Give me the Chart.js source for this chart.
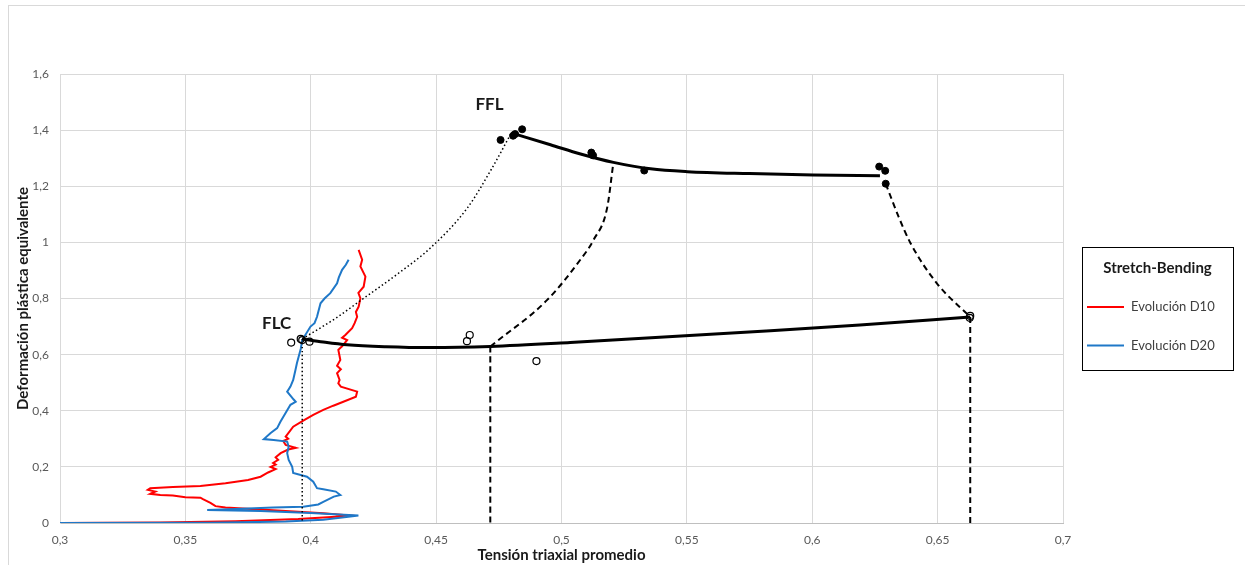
<!DOCTYPE html>
<html>
<head>
<meta charset="utf-8">
<title>Stretch-Bending</title>
<script src="https://cdn.jsdelivr.net/npm/chart.js@4/dist/chart.umd.min.js"></script>
<style>
html, body { margin: 0; padding: 0; background: #fff; overflow: hidden; }
#wrap { position: relative; width: 1245px; height: 565px; }
#frame { position: absolute; left: 8px; top: 5px; width: 1300px; height: 700px; border: 1px solid #d9d9d9; }
#graphCanvas { position: absolute; left: 0; top: 0; }
</style>
</head>
<body>
<div id="wrap">
	<div id="frame"></div>
	<canvas id="graphCanvas" width="1245" height="565"></canvas>
</div>
<script>
// axis ticks
var xTickLabels = ['0,3', '0,35', '0,4', '0,45', '0,5', '0,55', '0,6', '0,65', '0,7'];
var yTickLabels = ['0', '0,2', '0,4', '0,6', '0,8', '1', '1,2', '1,4', '1,6'];

// Evolución D10 (red)
var d10x = [0.300, 0.340, 0.370, 0.395, 0.410, 0.415, 0.405, 0.385, 0.366, 0.362, 0.360, 0.357, 0.356, 0.350,
	0.345, 0.340, 0.336, 0.338, 0.335, 0.336, 0.345, 0.356, 0.366, 0.375, 0.380, 0.383, 0.386, 0.384, 0.386,
	0.385, 0.387, 0.386, 0.388, 0.391, 0.394, 0.390, 0.389, 0.391, 0.390, 0.393, 0.397, 0.401, 0.405, 0.409,
	0.413, 0.418, 0.4185, 0.412, 0.411, 0.4115, 0.4105, 0.412, 0.4105, 0.4118, 0.411, 0.4125, 0.4145, 0.4125,
	0.4138, 0.4165, 0.4175, 0.4185, 0.4180, 0.4191, 0.4198, 0.4190, 0.4211, 0.4218, 0.4198, 0.4205, 0.4191];
var d10y = [0.000, 0.002, 0.006, 0.014, 0.022, 0.027, 0.035, 0.045, 0.055, 0.060, 0.072, 0.085, 0.090, 0.092,
	0.098, 0.100, 0.104, 0.112, 0.118, 0.124, 0.128, 0.132, 0.142, 0.153, 0.165, 0.180, 0.192, 0.200, 0.208,
	0.214, 0.225, 0.234, 0.249, 0.262, 0.268, 0.278, 0.292, 0.300, 0.308, 0.343, 0.365, 0.385, 0.403, 0.418,
	0.432, 0.450, 0.468, 0.486, 0.498, 0.510, 0.534, 0.548, 0.560, 0.581, 0.617, 0.630, 0.652, 0.660,
	0.670, 0.694, 0.712, 0.735, 0.752, 0.771, 0.801, 0.820, 0.842, 0.878, 0.914, 0.938, 0.973];

// Evolución D20 (blue)
var d20x = [0.300, 0.360, 0.390, 0.405, 0.415, 0.419, 0.400, 0.380, 0.3587, 0.370, 0.385, 0.397, 0.403, 0.405,
	0.4092, 0.4118, 0.4100, 0.4050, 0.4025, 0.4010, 0.3985, 0.3960, 0.3930, 0.3926, 0.3912, 0.3906, 0.3912,
	0.3906, 0.3852, 0.3813, 0.3839, 0.3866, 0.3879, 0.3899, 0.3919, 0.3940, 0.3932, 0.3906, 0.3919, 0.3930,
	0.3939, 0.3945, 0.3952, 0.3960, 0.3966, 0.3999, 0.4015, 0.4025, 0.4039, 0.4055, 0.4078, 0.4105, 0.4112,
	0.4125, 0.4140, 0.4151];
var d20y = [0.000, 0.001, 0.005, 0.012, 0.022, 0.027, 0.036, 0.043, 0.046, 0.050, 0.055, 0.058, 0.066, 0.075,
	0.094, 0.100, 0.112, 0.120, 0.124, 0.147, 0.165, 0.171, 0.178, 0.200, 0.225, 0.249, 0.272,
	0.290, 0.296, 0.299, 0.320, 0.338, 0.361, 0.391, 0.421, 0.432, 0.440, 0.468, 0.486, 0.510,
	0.545, 0.570, 0.593, 0.620, 0.652, 0.700, 0.712, 0.735, 0.783, 0.800, 0.819, 0.854, 0.875,
	0.902, 0.920, 0.938];

// FFL fit and measured points
var fflx = [0.480, 0.4956, 0.5076, 0.5207, 0.5355, 0.5502, 0.575, 0.6004, 0.627];
var ffly = [1.390, 1.348, 1.315, 1.285, 1.262, 1.252, 1.245, 1.240, 1.237];
var fflPtsX = [0.4757, 0.4807, 0.4843, 0.4815, 0.5119, 0.5126, 0.533, 0.6267, 0.6291, 0.6293];
var fflPtsY = [1.365, 1.380, 1.403, 1.386, 1.320, 1.310, 1.256, 1.270, 1.255, 1.209];

// FLC fit and measured points
var flcx = [0.3966, 0.405, 0.4145, 0.430, 0.4477, 0.4716, 0.5035, 0.5833, 0.619, 0.663];
var flcy = [0.656, 0.645, 0.635, 0.628, 0.625, 0.629, 0.643, 0.685, 0.706, 0.734];
var flcPtsX = [0.3922, 0.3960, 0.3966, 0.3995, 0.4634, 0.4623, 0.490, 0.663, 0.6628];
var flcPtsY = [0.643, 0.656, 0.652, 0.646, 0.670, 0.648, 0.577, 0.738, 0.731];

// connecting paths FLC -> FFL
var dotPathX = [0.3966, 0.410, 0.421, 0.435, 0.4477, 0.4624, 0.472, 0.480];
var dotPathY = [0.656, 0.730, 0.800, 0.890, 0.980, 1.122, 1.260, 1.390];
var dashMidX = [0.4716, 0.4943, 0.5075, 0.5128, 0.5182, 0.5207];
var dashMidY = [0.629, 0.795, 0.938, 1.009, 1.123, 1.285];
var dashEndX = [0.6293, 0.6345, 0.6392, 0.6497, 0.663];
var dashEndY = [1.209, 1.090, 0.997, 0.854, 0.734];

// vertical drops to the x axis
var dropDotX = [0.3966, 0.3966];
var dropDotY = [0.656, 0];
var dropMidX = [0.4716, 0.4716];
var dropMidY = [0.629, 0];
var dropEndX = [0.663, 0.663];
var dropEndY = [0.734, 0];

// curve labels
var curveLabels = ['FFL', 'FLC'];
var curveLabelX = [0.4713, 0.3864];
var curveLabelY = [1.49, 0.712];

function pts(xs, ys)
{
	var out = [];
	for (var i = 0; i < xs.length; i++) {
		out.push({ x: xs[i], y: ys[i] });
	}
	return out;
}

function curve(xs, ys, width, dash)
{
	return {
		data: pts(xs, ys),
		showLine: true,
		borderColor: '#000000',
		borderWidth: width,
		borderDash: dash,
		pointRadius: 0,
		cubicInterpolationMode: 'monotone',
		fill: false
	};
}

var fontFamily = 'Lato, "Open Sans", sans-serif';

// names of the curves, drawn next to them
var curveNames = {
	id: 'curveNames',
	afterDatasetsDraw: function (chart)
	{
		var ctx = chart.ctx;
		var xs = chart.scales.x;
		var ys = chart.scales.y;
		ctx.save();
		ctx.font = 'bold 17px ' + fontFamily;
		ctx.fillStyle = '#1a1a1a';
		ctx.textAlign = 'center';
		ctx.textBaseline = 'middle';
		for (var i = 0; i < curveLabels.length; i++) {
			ctx.fillText(curveLabels[i], xs.getPixelForValue(curveLabelX[i]), ys.getPixelForValue(curveLabelY[i]));
		}
		ctx.restore();
	}
};

// framed legend with a title, right of the plot
var legendBox = {
	id: 'legendBox',
	afterDraw: function (chart)
	{
		var ctx = chart.ctx;
		var left = 1082, top = 247, w = 151, h = 123;
		ctx.save();
		ctx.strokeStyle = '#000000';
		ctx.lineWidth = 1;
		ctx.strokeRect(left + 0.5, top + 0.5, w, h);
		ctx.fillStyle = '#1a1a1a';
		ctx.font = 'bold 15px ' + fontFamily;
		ctx.textAlign = 'center';
		ctx.textBaseline = 'middle';
		ctx.fillText('Stretch-Bending', left + w / 2, top + 21);
		var rowY = top + 60;
		ctx.font = '13px ' + fontFamily;
		ctx.textAlign = 'left';
		chart.data.datasets.forEach(function (ds) {
			if (!ds.label) return;
			ctx.strokeStyle = ds.borderColor;
			ctx.lineWidth = 2;
			ctx.beginPath();
			ctx.moveTo(left + 5, rowY);
			ctx.lineTo(left + 42, rowY);
			ctx.stroke();
			ctx.fillStyle = '#404040';
			ctx.fillText(ds.label, left + 49, rowY);
			rowY += 38.5;
		});
		ctx.restore();
	}
};

var datasets = [
	Object.assign(curve(fflx, ffly, 3, []), { order: 1 }),
	Object.assign(curve(flcx, flcy, 3, []), { order: 1 }),
	Object.assign(curve(dotPathX, dotPathY, 1.5, [1.5, 2.5]), { order: 2 }),
	Object.assign(curve(dashMidX, dashMidY, 2, [6, 4]), { order: 2 }),
	Object.assign(curve(dashEndX, dashEndY, 2, [6, 4]), { order: 2 }),
	Object.assign(curve(dropDotX, dropDotY, 1.5, [1.5, 2.5]), { order: 2 }),
	Object.assign(curve(dropMidX, dropMidY, 2, [6, 4]), { order: 2 }),
	Object.assign(curve(dropEndX, dropEndY, 2, [6, 4]), { order: 2 }),
	{
		data: pts(fflPtsX, fflPtsY),
		showLine: false,
		pointRadius: 3.5,
		pointBackgroundColor: '#000000',
		pointBorderColor: '#000000',
		pointBorderWidth: 1,
		order: 0
	},
	{
		data: pts(flcPtsX, flcPtsY),
		showLine: false,
		pointRadius: 3.5,
		pointBackgroundColor: 'rgba(255,255,255,0)',
		pointBorderColor: '#000000',
		pointBorderWidth: 1.2,
		order: 0
	},
	{
		label: 'Evolución D10',
		data: pts(d10x, d10y),
		showLine: true,
		borderColor: '#ff0000',
		borderWidth: 2,
		pointRadius: 0,
		tension: 0,
		fill: false,
		order: 4
	},
	{
		label: 'Evolución D20',
		data: pts(d20x, d20y),
		showLine: true,
		borderColor: '#1f78c8',
		borderWidth: 2,
		pointRadius: 0,
		tension: 0,
		fill: false,
		order: 3
	}
];

var graphTarget = document.getElementById('graphCanvas');

var graph = new Chart(graphTarget, {
	type: 'scatter',
	data: { datasets: datasets },
	options: {
		responsive: false,
		devicePixelRatio: 1,
		animation: false,
		layout: { padding: { left: 0, top: 74, right: 182, bottom: 0 } },
		plugins: {
			legend: { display: false },
			tooltip: { enabled: false }
		},
		scales: {
			x: {
				type: 'linear',
				min: 0.3,
				max: 0.7,
				afterFit: function (scale) { scale.height = 42; },
				ticks: {
					stepSize: 0.05,
					padding: 10,
					color: '#595959',
					font: { family: fontFamily, size: 12 },
					callback: function (value, index) { return xTickLabels[index]; }
				},
				grid: { color: '#d9d9d9', drawTicks: false },
				border: { color: '#bfbfbf' },
				title: {
					display: true,
					text: 'Tensión triaxial promedio',
					color: '#1a1a1a',
					font: { family: fontFamily, size: 15, weight: 'bold' },
					padding: { top: 0, bottom: 1 }
				}
			},
			y: {
				type: 'linear',
				min: 0,
				max: 1.6,
				afterFit: function (scale) { scale.width = 60; },
				ticks: {
					stepSize: 0.2,
					padding: 11,
					color: '#595959',
					font: { family: fontFamily, size: 12 },
					callback: function (value, index) { return yTickLabels[index]; }
				},
				grid: { color: '#d9d9d9', drawTicks: false },
				border: { color: '#d9d9d9' },
				title: {
					display: true,
					text: 'Deformación plástica equivalente',
					color: '#1a1a1a',
					font: { family: fontFamily, size: 15, weight: 'bold' },
					padding: { top: 14, bottom: 0 }
				}
			}
		}
	},
	plugins: [curveNames, legendBox]
});
</script>
</body>
</html>
